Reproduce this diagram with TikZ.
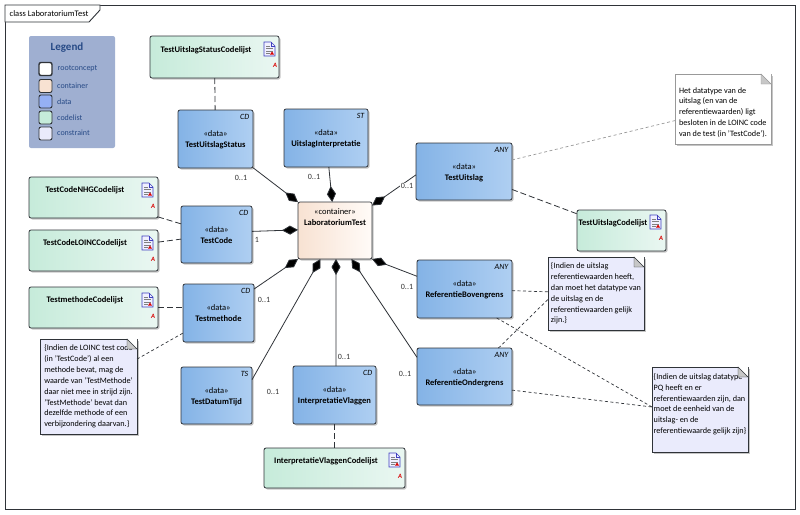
\documentclass[tikz,border=0pt]{standalone}
\usepackage{fontspec}
\setmainfont{Carlito}
\usetikzlibrary{arrows.meta,shadows}

\definecolor{datal}{HTML}{84B3E6}
\definecolor{datar}{HTML}{AFCFF2}
\definecolor{codel}{HTML}{C6EBDA}
\definecolor{coder}{HTML}{EAF7F2}
\definecolor{contl}{HTML}{F8E2D2}
\definecolor{contr}{HTML}{FFFBF8}
\definecolor{noteblue}{HTML}{EAEBFC}
\definecolor{legendbg}{HTML}{9FAFD1}
\definecolor{legendtxt}{HTML}{274A86}
\definecolor{edge}{HTML}{2F3338}

\newcommand{\notefold}[2]{
\fill [white] (#1.north east) -- ++(-10,0) -- ++(10,10) -- cycle;
\draw [#2, fill=black!22] (#1.north east) ++(-10,0) -- ++(10,10) -- ++(-10,0) -- cycle;
}

\tikzset{
  txt/.style={font=\fontsize{8.5}{10.9}\selectfont},
  bld/.style={font=\fontsize{8.5}{10.9}\selectfont\bfseries},
  box/.style={draw=edge, line width=.8pt, rounded corners=2pt, outer sep=0pt, inner sep=0pt, align=center, txt,
    drop shadow={shadow xshift=1.5pt, shadow yshift=-1.5pt, fill=black!45, opacity=.5}},
  databox/.style={box, left color=datal, right color=datar, text height=19pt, text depth=2pt},
  contbox/.style={box, left color=contl, right color=contr, text depth=26pt},
  codebox/.style={box, left color=codel, right color=coder, bld, text height=6pt, text depth=16pt,
    execute at end node={\hspace*{17pt}}},
  notebox/.style={draw=edge, line width=.8pt, outer sep=0pt, fill=noteblue, inner sep=0pt, align=left,
    font=\fontsize{8.2}{10.85}\selectfont,
    drop shadow={shadow xshift=1.5pt, shadow yshift=-1.5pt, fill=black!45, opacity=.5}},
  tagtxt/.style={font=\fontsize{8}{9}\selectfont\itshape, anchor=north east, inner xsep=3.5pt, inner ysep=4pt},
  mult/.style={font=\fontsize{8}{9}\selectfont, text=black!80, inner sep=.5pt, fill=white},
  aggr/.style={draw=edge, line width=.8pt, arrows={Diamond[length=16pt,width=9pt,fill=black]-}},
  codelink/.style={draw=edge, line width=.8pt, dash pattern=on 6pt off 3pt},
  notelink/.style={draw=edge, line width=.7pt, dash pattern=on 3pt off 2.5pt},
  swatch/.style={draw=edge, line width=.9pt, rounded corners=2pt, minimum width=13pt, minimum height=13pt, inner sep=0pt},
  legtxt/.style={font=\fontsize{8}{9}\selectfont, text=legendtxt, anchor=west, inner sep=0pt},
  docicon/.pic={
    \draw [blue!50!gray, fill=blue!6, line width=.6pt] (-11,0) -- (-4,0) -- (0,4) -- (0,14) -- (-11,14) -- cycle;
    \draw [blue!50!gray, line width=.5pt] (-4,0) -- (-4,4) -- (0,4);
    \draw [gray, line width=.5pt] (-9,4) -- (-5,4);
    \draw [gray, line width=.5pt] (-9,6.5) -- (-2,6.5);
    \draw [gray, line width=.5pt] (-9,9) -- (-2,9);
    \draw [gray, line width=.5pt] (-9,11.5) -- (-5,11.5);
    \fill [red!85!black] (-1,12.5) -- (-5,12.5) -- (-3,9.5) -- cycle;
    \node [font=\fontsize{6.5}{7}\selectfont\bfseries\itshape, text=red!85!black, inner sep=0pt] (-mark) at (0,23) {A};
  }
}

\begin{document}
\begin{tikzpicture}[x=1pt,y=-1pt]
\useasboundingbox (0,0) rectangle (800,514);

% frame
\draw [edge, line width=.9pt] (5,5) rectangle (795,509);
\draw [edge, line width=.9pt, fill=white] (5,5) -- (100,5) -- (100,10) -- (89,22) -- (5,22) -- cycle;
\node [txt, anchor=west, inner sep=0pt] (FrameTitle) at (9.5,13.5) {class LaboratoriumTest};

% legend
\node [fill=legendbg, rounded corners=2pt, minimum width=86pt, minimum height=112pt, inner sep=0pt] (Legend) at (72,92) {};
\node [font=\fontsize{11}{12}\selectfont\bfseries, text=legendtxt, inner sep=0pt] (LegendTitle) at (67,48) {Legend};
\node [swatch, fill=white, line width=1.4pt] (SwatchRoot) at (45.5,69) {};
\node [swatch, fill=contl] (SwatchCont) at (45.5,86) {};
\node [swatch, fill=datar!85!blue] (SwatchData) at (45.5,101.5) {};
\node [swatch, fill=codel] (SwatchCode) at (45.5,117.5) {};
\node [swatch, fill=noteblue] (SwatchCons) at (45.5,133.5) {};
\node [legtxt] (LegRoot) at (57.5,69) {rootconcept};
\node [legtxt] (LegCont) at (57,85.5) {container};
\node [legtxt] (LegData) at (57,101.5) {data};
\node [legtxt] (LegCode) at (57,117.5) {codelist};
\node [legtxt] (LegCons) at (57,133) {constraint};

% data
\node [contbox, minimum width=74pt, minimum height=57pt] (Lab) at (335,230.5) {«container»\\\textbf{LaboratoriumTest}};
\node [databox, minimum width=75pt, minimum height=58pt] (Status) at (215.5,139) {«data»\\\textbf{TestUitslagStatus}};
\node [databox, minimum width=84pt, minimum height=58pt] (Interpretatie) at (326,138) {«data»\\\textbf{UitslagInterpretatie}};
\node [databox, minimum width=96pt, minimum height=57pt] (Uitslag) at (464,171.5) {«data»\\\textbf{TestUitslag}};
\node [databox, minimum width=71pt, minimum height=57pt] (Code) at (216.5,234.5) {«data»\\\textbf{TestCode}};
\node [databox, minimum width=71pt, minimum height=58pt] (Methode) at (218.5,313) {«data»\\\textbf{Testmethode}};
\node [databox, minimum width=71pt, minimum height=57pt] (DatumTijd) at (216.5,395.5) {«data»\\\textbf{TestDatumTijd}};
\node [databox, minimum width=83pt, minimum height=58pt] (Vlaggen) at (334.5,395) {«data»\\\textbf{InterpretatieVlaggen}};
\node [databox, minimum width=95pt, minimum height=58pt] (Boven) at (464.5,289) {«data»\\\textbf{ReferentieBovengrens}};
\node [databox, minimum width=95pt, minimum height=57pt] (Onder) at (464.5,376.5) {«data»\\\textbf{ReferentieOndergrens}};

\node [tagtxt] (StatusTag) at (Status.north east) {CD};
\node [tagtxt] (InterpretatieTag) at (Interpretatie.north east) {ST};
\node [tagtxt] (UitslagTag) at (Uitslag.north east) {ANY};
\node [tagtxt] (CodeTag) at (Code.north east) {CD};
\node [tagtxt] (MethodeTag) at (Methode.north east) {CD};
\node [tagtxt] (DatumTijdTag) at (DatumTijd.north east) {TS};
\node [tagtxt] (VlaggenTag) at (Vlaggen.north east) {CD};
\node [tagtxt] (BovenTag) at (Boven.north east) {ANY};
\node [tagtxt] (OnderTag) at (Onder.north east) {ANY};

% codelists
\node [codebox, minimum width=129pt, minimum height=42pt] (StatusList) at (214.5,57) {TestUitslagStatusCodelijst};
\node [codebox, minimum width=129pt, minimum height=41pt] (NhgList) at (93.5,197.5) {TestCodeNHGCodelijst};
\node [codebox, minimum width=129pt, minimum height=41pt] (LoincList) at (93.5,250.5) {TestCodeLOINCCodelijst};
\node [codebox, minimum width=129pt, minimum height=41pt] (MethodeList) at (93.5,307.5) {TestmethodeCodelijst};
\node [codebox, minimum width=89pt, minimum height=41pt] (UitslagList) at (621.5,230.5) {TestUitslagCodelijst};
\node [codebox, minimum width=141pt, minimum height=40pt] (VlaggenList) at (334.5,468) {InterpretatieVlaggenCodelijst};

\pic (StatusIcon) at ([shift={(-4,6)}]StatusList.north east) {docicon};
\pic (NhgIcon) at ([shift={(-5,6)}]NhgList.north east) {docicon};
\pic (LoincIcon) at ([shift={(-5,6)}]LoincList.north east) {docicon};
\pic (MethodeIcon) at ([shift={(-5,6)}]MethodeList.north east) {docicon};
\pic (UitslagIcon) at ([shift={(-5,5)}]UitslagList.north east) {docicon};
\pic (VlaggenIcon) at ([shift={(-5,5)}]VlaggenList.north east) {docicon};

% notes
\node [notebox, draw=black!40, fill=white, minimum width=96pt, minimum height=70pt, text height=57pt, text depth=2pt] (NoteDatatype) at (723,109)
  {Het datatype van de\\uitslag (en van de\\referentiewaarden) ligt\\besloten in de LOINC code\\van de test (in 'TestCode').};
\node [notebox, minimum width=97pt, minimum height=95pt] (NoteMethode) at (88.5,386.5)
  {\{Indien de LOINC test code\\(in 'TestCode') al een\\methode bevat, mag de\\waarde van 'TestMethode'\\daar niet mee in strijd zijn.\\'TestMethode' bevat dan\\dezelfde methode of een\\verbijzondering daarvan.\}};
\node [notebox, minimum width=96pt, minimum height=73pt] (NoteGelijk) at (596,293.5)
  {\{Indien de uitslag\\referentiewaarden heeft,\\dan moet het datatype van\\de uitslag en de\\referentiewaarden gelijk\\zijn.\}};
\node [notebox, minimum width=96pt, minimum height=85pt, text depth=12pt] (NoteEenheid) at (700,409.5)
  {\{Indien de uitslag datatype\\PQ heeft en er\\referentiewaarden zijn, dan\\moet de eenheid van de\\uitslag- en de\\referentiewaarde gelijk zijn\}};

\notefold{NoteDatatype}{black!40}
\notefold{NoteMethode}{edge}
\notefold{NoteGelijk}{edge}
\notefold{NoteEenheid}{edge}

% aggregations
\draw [aggr] (Lab) -- (Status);
\draw [aggr] (Lab) -- (Interpretatie);
\draw [aggr] (Lab.34.6) -- (Uitslag.184.2);
\draw [aggr] (Lab.179.2) -- (Code.5.6);
\draw [aggr] (Lab.south west) -- (Methode.34);
\draw [aggr] (Lab.243.8) -- (DatumTijd.24.9);
\draw [aggr] (Lab.272) -- (Vlaggen.87);
\draw [aggr] (Lab.300.8) -- (Onder.158.7);
\draw [aggr] (Lab.south east) -- (Boven.165.8);

% links
\draw [codelink] (StatusList) -- (Status);
\draw [codelink] (NhgList) -- (Code);
\draw [codelink] (LoincList) -- (Code);
\draw [codelink] (MethodeList.east) -- (MethodeList.east -| Methode.west);
\draw [codelink] (Uitslag) -- (UitslagList);
\draw [codelink] (Vlaggen) -- (VlaggenList);
\draw [notelink] (NoteMethode) -- (Methode);
\draw [notelink, draw=black!40] (Uitslag) -- (NoteDatatype);
\draw [notelink] (Boven) -- (NoteGelijk);
\draw [notelink] (Onder.40.4) -- (NoteGelijk.187.7);
\draw [notelink] (Boven.318.3) -- (NoteEenheid.177);
\draw [notelink] (Onder.344.1) -- (NoteEenheid.177);

% multiplicities
\node [mult] (MultStatus) at (241,178) {0..1};
\node [mult] (MultInterpretatie) at (314,177) {0..1};
\node [mult] (MultUitslag) at (407,186) {0..1};
\node [mult] (MultCode) at (257,240) {1};
\node [mult] (MultMethode) at (264,300) {0..1};
\node [mult] (MultDatumTijd) at (273,392) {0..1};
\node [mult] (MultVlaggen) at (344,357) {0..1};
\node [mult] (MultOnder) at (405,374) {0..1};
\node [mult] (MultBoven) at (407,287) {0..1};

\end{tikzpicture}
\end{document}
